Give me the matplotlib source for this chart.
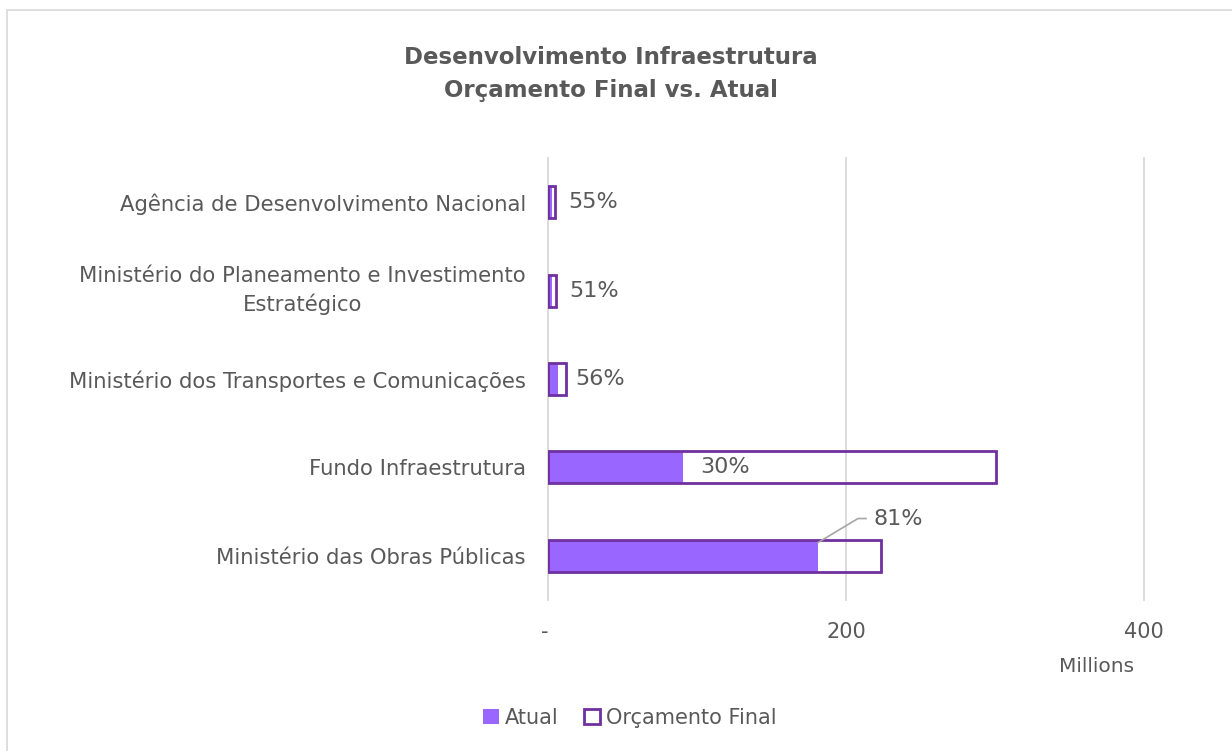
import matplotlib
matplotlib.use("Agg")
import matplotlib.pyplot as plt
from matplotlib.patches import Patch, Rectangle

categories = [
    "Ministério das Obras Públicas",
    "Fundo Infraestrutura",
    "Ministério dos Transportes e Comunicações",
    "Ministério do Planeamento e Investimento\nEstratégico",
    "Agência de Desenvolvimento Nacional",
]
orcamento_final = [223.5, 300.7, 12.0, 5.5, 4.5]   # millions
atual = [181.2, 90.6, 6.7, 2.8, 2.48]              # millions
x_ticks = [0, 200, 400]
x_tick_labels = ["- ", "200", "400"]

FILL = "#9966FF"
EDGE = "#7030A0"
TXT = "#595959"
GRID = "#D9D9D9"

plt.rcParams['font.family'] = ['DejaVu Sans']

fig = plt.figure(figsize=(12.32, 7.51), dpi=100)
fig.patches.append(Rectangle((7 / 1232, -0.1), 1.2, 1 - 10 / 751 + 0.1,
                             transform=fig.transFigure, fill=False,
                             edgecolor="#D9D9D9", linewidth=1.2))
ax = fig.add_axes([548 / 1232, 1 - 600 / 751, (1144 - 548) / 1232, (600 - 158) / 751])

y = list(range(len(categories)))
h = 0.36
ax.barh(y, atual, height=h, color=FILL, edgecolor="none", zorder=3)
ax.barh(y, orcamento_final, height=h, facecolor="none", edgecolor=EDGE,
        linewidth=2, zorder=4)

ax.set_xlim(0, 400)
ax.set_ylim(-0.5, len(categories) - 0.5)
ax.set_xticks(x_ticks)
ax.set_xticklabels(x_tick_labels)
ax.set_yticks(y)
ax.set_yticklabels(categories)
for lab in ax.get_yticklabels():
    lab.set_multialignment('center')
    lab.set_linespacing(1.45)
    if "\n" in lab.get_text():
        lab.set_verticalalignment('center')
ax.tick_params(axis='y', length=0, pad=16, labelsize=15.2, labelcolor=TXT)
ax.tick_params(axis='x', length=0, pad=16, labelsize=15, labelcolor=TXT)
ax.grid(axis='x', color=GRID, linewidth=1.3, zorder=0)
for gl in ax.get_xgridlines():
    gl.set_clip_on(False)
ax.set_axisbelow(True)
for s in ax.spines.values():
    s.set_visible(False)

# data labels (percent of final budget)
for i, (a, f) in enumerate(zip(atual, orcamento_final)):
    pct = f"{round(100 * a / f):d}%"
    if i == 0:
        start = ax.transData.transform((a, i + 0.15))
        p1 = start + [40, 24]
        p2 = start + [48, 24]
        inv = ax.transData.inverted()
        pts = inv.transform([start, p1, p2])
        ax.plot(pts[:, 0], pts[:, 1], color="#A6A6A6", linewidth=1.2, zorder=5)
        tp = inv.transform(start + [56, 24])
        ax.text(tp[0], tp[1], pct, fontsize=16, color=TXT, ha='left', va='center', zorder=6)
    else:
        ax.annotate(pct, xy=(a, i), xytext=(17, 0), textcoords='offset pixels',
                    fontsize=16, color=TXT, ha='left', va='center', zorder=6)

fig.text(0.496, 1 - 57 / 751, "Desenvolvimento Infraestrutura", ha='center', va='center',
         fontsize=16.5, fontweight='bold', color=TXT)
fig.text(0.496, 1 - 90 / 751, "Orçamento Final vs. Atual", ha='center', va='center',
         fontsize=16.5, fontweight='bold', color=TXT)
fig.text(1097 / 1232, 1 - 667 / 751, "Millions", ha='center', va='center',
         fontsize=14.5, color=TXT)

handles = [Patch(facecolor=FILL, edgecolor='none', label="Atual"),
           Patch(facecolor='white', edgecolor=EDGE, linewidth=2, label="Orçamento Final")]
leg = fig.legend(handles=handles, loc='center', bbox_to_anchor=(630 / 1232, 1 - 718 / 751),
                 ncol=2, frameon=False, fontsize=15, handlelength=0.75, handleheight=0.75,
                 handletextpad=0.3, columnspacing=1.2, labelcolor=TXT)

fig.savefig("out.png", dpi=100)
